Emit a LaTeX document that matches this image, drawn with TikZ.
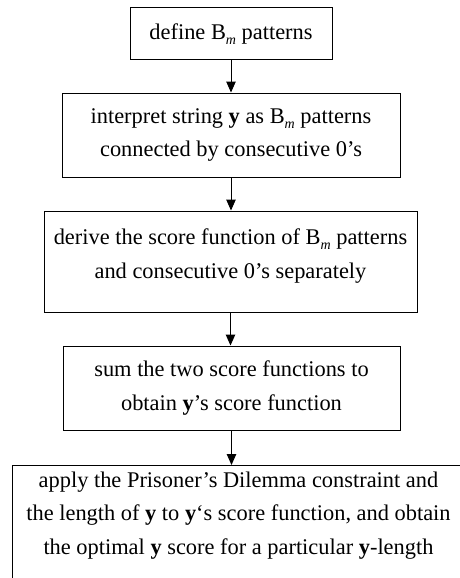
\documentclass[tikz,border=0pt]{standalone}
\usepackage{fontspec}
\setmainfont{Liberation Serif}
\usetikzlibrary{arrows.meta}
\newcommand{\Bm}{B\raisebox{-0.22em}{\fontsize{14}{14}\selectfont\itshape m}}
\newcommand{\yb}{\textbf{y}}
\begin{document}
\begin{tikzpicture}[x=1pt,y=-1pt,
  flowbox/.style={draw=black,line width=1pt,rectangle,align=center,inner sep=0pt,
    font=\fontsize{22.4}{33.5}\selectfont},
  flowarrow/.style={line width=1pt,-{Triangle[length=11pt,width=9.5pt]}}]
\useasboundingbox (0,0) rectangle (460,578);
\clip (0,0) rectangle (460,578);
\fill[white] (0,0) rectangle (460,578);
\node[flowbox,minimum width=202pt,minimum height=52pt] (b1) at (231,34) {define \Bm\ patterns};
\node[flowbox,minimum width=338pt,minimum height=84pt] (b2) at (231,135)
  {interpret string \yb\ as \Bm\ patterns\\connected by consecutive 0’s};
\node[flowbox,minimum width=373pt,minimum height=101pt,text depth=16pt] (b3) at (230.5,261.5)
  {derive the score function of \Bm\ patterns\\and consecutive 0’s separately};
\node[flowbox,minimum width=337pt,minimum height=84pt] (b4) at (231.5,388)
  {sum the two score functions to\\obtain \yb’s score function};
\node[flowbox,anchor=north,minimum width=453pt,inner ysep=6pt,text depth=110pt] (b5) at (238.5,465)
  {apply the Prisoner’s Dilemma constraint and\\the length of \yb\ to \yb‘s score function, and obtain\\the optimal \yb\ score for a particular \yb-length};
\draw[flowarrow] (b1.south) -- (b1.south |- b2.north);
\draw[flowarrow] (b2.south) -- (b2.south |- b3.north);
\draw[flowarrow] (b3.south) -- (b3.south |- b4.north);
\draw[flowarrow] (b4.south) -- (b4.south |- b5.north);
\end{tikzpicture}
\end{document}
